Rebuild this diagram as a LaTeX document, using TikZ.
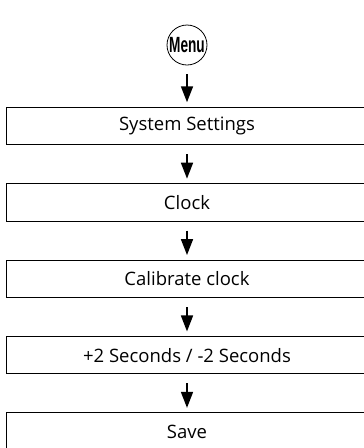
\documentclass[tikz,border=0pt]{standalone}
\usepackage{fontspec}
\setmainfont{Open Sans}
\newfontfamily\menufont[FakeStretch=0.62]{Liberation Sans}
\usetikzlibrary{arrows.meta,positioning}
\tikzset{
  stepbox/.style = {draw, line width=1pt, minimum width=362pt, minimum height=37.5pt,
                    inner sep=0pt, font=\fontsize{18.5}{20}\selectfont},
  menubtn/.style = {circle, draw, line width=0.8pt, minimum size=40pt, inner sep=0pt,
                    font=\menufont\bfseries\fontsize{22}{22}\selectfont},
  flow/.style    = {-{Triangle[length=16pt,width=12pt]}, line width=1.7pt,
                    shorten <=9pt, shorten >=4.5pt}
}

\begin{document}
\begin{tikzpicture}[x=1pt, y=-1pt]
    \useasboundingbox (0,0) rectangle (364,448);
    % Start button
    \node[menubtn] (menu) at (187,45) {Menu};
    % Menu path
    \node[stepbox] (settings)  at (187,126)   {System Settings};
    \node[stepbox] (clock)     at (187,202.4) {Clock};
    \node[stepbox] (calib)     at (187,278.8) {Calibrate clock};
    \node[stepbox] (seconds)   at (187,355.2) {+2 Seconds / -2 Seconds};
    \node[stepbox] (save)      at (187,431.6) {Save};
    % Arrows
    \draw[flow] (menu) -- (settings);
    \draw[flow] (settings) -- (clock);
    \draw[flow] (clock) -- (calib);
    \draw[flow] (calib) -- (seconds);
    \draw[flow] (seconds) -- (save);
\end{tikzpicture}
\end{document}
